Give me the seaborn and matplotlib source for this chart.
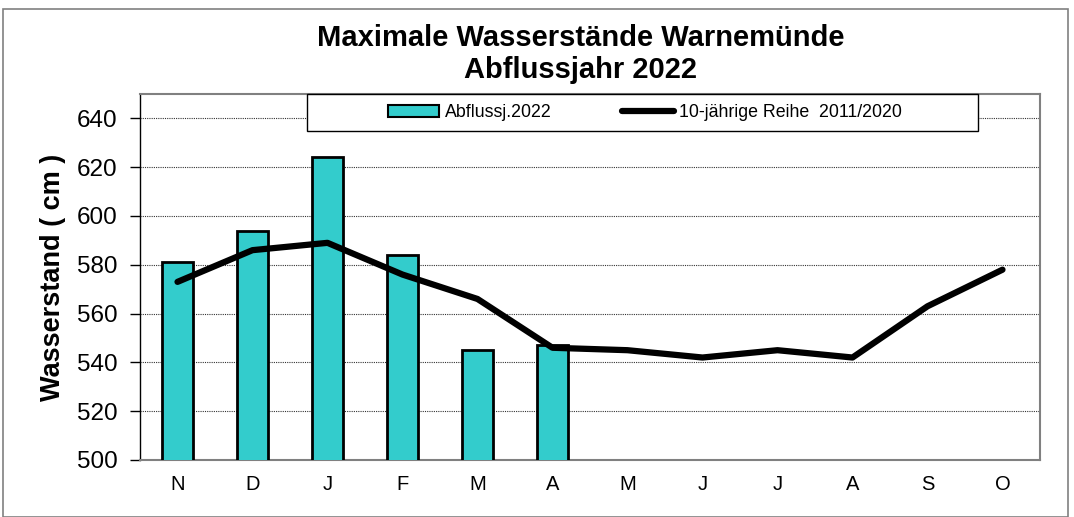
import numpy as np
import pandas as pd
import matplotlib
matplotlib.use("Agg")
import matplotlib.pyplot as plt
import seaborn as sns
from matplotlib.patches import Patch, Rectangle
from matplotlib.lines import Line2D

months = ["Nov", "Dez", "Jan", "Feb", "Mär", "Apr", "Mai", "Jun", "Jul", "Aug", "Sep", "Okt"]
tick_labels = ["N", "D", "J", "F", "M", "A", "M", "J", "J", "A", "S", "O"]
bars_2022 = [581, 594, 624, 584, 545, 547, np.nan, np.nan, np.nan, np.nan, np.nan, np.nan]
reihe_2011_2020 = [573, 586, 589, 576, 566, 546, 545, 542, 545, 542, 563, 578]
y_ticks = [500, 520, 540, 560, 580, 600, 620, 640]

sns.set_theme(style="white")
plt.rcParams['font.family'] = ['Liberation Sans', 'DejaVu Sans']
for k in ["text.color", "axes.labelcolor", "xtick.color", "ytick.color"]:
    plt.rcParams[k] = "black"

fig = plt.figure(figsize=(10.74, 5.17), dpi=100)
ax = fig.add_axes([140/1074, 1-460/517, 900/1074, 366/517])

df = pd.DataFrame({"Monat": months, "Wert": bars_2022})
sns.barplot(data=df, x="Monat", y="Wert", order=months, color="#33CCCC",
            saturation=1, edgecolor="black", linewidth=2, width=0.41, ax=ax, zorder=3)
sns.lineplot(x=np.arange(len(months)), y=reihe_2011_2020, color="black", linewidth=4.5,
             ax=ax, zorder=4)

ax.set_xlim(-0.5, 11.5)
ax.set_ylim(500, 650)
ax.set_yticks(y_ticks)
ax.set_yticklabels([str(v) for v in y_ticks], fontsize=17.5)
ax.set_xticks(np.arange(len(months)))
ax.set_xticklabels(tick_labels, fontsize=14.5)
ax.set_xlabel("")
ax.set_ylabel("Wasserstand ( cm )", fontsize=19.5, fontweight="bold", labelpad=8)
ax.yaxis.grid(True, linestyle=(0, (1, 1)), color="#333333", linewidth=0.8, zorder=0)
ax.set_axisbelow(True)
ax.tick_params(axis="y", which="both", left=True, length=7, width=1, color="black", pad=9)
ax.tick_params(axis="x", bottom=False, pad=5)
ax.spines["left"].set_color("black")
ax.spines["left"].set_linewidth(1)
for side in ["top", "right", "bottom"]:
    ax.spines[side].set_color("#808080")
    ax.spines[side].set_linewidth(1.5)

fig.text(581/1074, 1-38/517, "Maximale Wasserstände Warnemünde", ha="center", va="center",
         fontsize=21, fontweight="bold")
fig.text(581/1074, 1-70/517, "Abflussjahr 2022", ha="center", va="center",
         fontsize=21, fontweight="bold")

# legend box
fig.patches.append(Rectangle((307/1074, 1-131/517), 671/1074, 37/517, transform=fig.transFigure,
                             facecolor="white", edgecolor="black", linewidth=1, zorder=9))
handles = [Patch(facecolor="#33CCCC", edgecolor="black", linewidth=1.5),
           Line2D([0], [0], color="black", linewidth=4.5)]
leg = fig.legend(handles, ["Abflussj.2022", "10-jährige Reihe  2011/2020"], ncol=2,
                 loc="center", bbox_to_anchor=(645/1074, 1-112.5/517),
                 fontsize=12.8, frameon=False, handlelength=2.9, handleheight=0.7,
                 handletextpad=0.3, columnspacing=4.0)
leg.set_zorder(10)

fig.patches.append(Rectangle((3/1074, 0), 1065/1074, 1-9/517, transform=fig.transFigure,
                             fill=False, edgecolor="#808080", linewidth=1.2))

fig.savefig("out.png", dpi=100)
